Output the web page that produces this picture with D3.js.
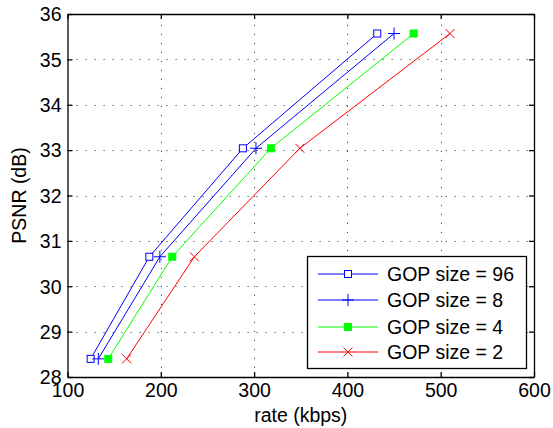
<!DOCTYPE html>
<html>
<head>
<meta charset="utf-8">
<script src="https://cdn.jsdelivr.net/npm/d3@7"></script>
<style>
  body { margin: 0; background: #fff; }
  svg text { font-family: "Liberation Sans", Arial, sans-serif; fill: #000; }
</style>
</head>
<body>
<svg id="chart" width="553" height="428"></svg>
<script>
// data
var psnr = [28.40, 30.65, 33.04, 35.57];
var rateGop96 = [124.8, 187.7, 288, 432];
var rateGop8 = [133, 199, 302, 450];
var rateGop4 = [143.7, 212.3, 318, 471];
var rateGop2 = [163.4, 236, 349, 510];
var seriesNames = ["GOP size = 96", "GOP size = 8", "GOP size = 4", "GOP size = 2"];
var xTicks = [100, 200, 300, 400, 500, 600];
var yTicks = [28, 29, 30, 31, 32, 33, 34, 35, 36];

var series = [
    {name: seriesNames[0], rates: rateGop96, color: "#0000ff", marker: "square"},
    {name: seriesNames[1], rates: rateGop8, color: "#0000ff", marker: "plus"},
    {name: seriesNames[2], rates: rateGop4, color: "#00ff00", marker: "filled"},
    {name: seriesNames[3], rates: rateGop2, color: "#ff0000", marker: "cross"}
];

var plotL = 67.5, plotR = 534, plotT = 14, plotB = 377;
var fontSize = "19.5px";
var svg = d3.select("#chart");

var x = d3.scaleLinear().domain([100, 600]).range([plotL, plotR]);
var y = d3.scaleLinear().domain([28, 36]).range([plotB, plotT]);

// grid
var grid = svg.append("g").attr("stroke", "#000").attr("stroke-width", 1)
    .attr("stroke-dasharray", "1.2,7.8").attr("opacity", 0.7);
grid.selectAll("line.gx").data(xTicks.slice(1, -1)).enter().append("line")
    .attr("x1", function (d) { return Math.round(x(d)) + 0.5; })
    .attr("x2", function (d) { return Math.round(x(d)) + 0.5; })
    .attr("y1", plotB).attr("y2", plotT);
grid.selectAll("line.gy").data(yTicks.slice(1, -1)).enter().append("line")
    .attr("y1", function (d) { return Math.round(y(d)) + 0.5; })
    .attr("y2", function (d) { return Math.round(y(d)) + 0.5; })
    .attr("x1", plotL).attr("x2", plotR);

// axes (ticks inside, box)
function noLabels(a) { return a.tickFormat(""); }
var axB = svg.append("g").attr("transform", "translate(0," + plotB + ")")
    .call(d3.axisBottom(x).tickValues(xTicks).tickSize(-5).tickSizeOuter(0).tickPadding(5));
var axT = svg.append("g").attr("transform", "translate(0," + plotT + ")")
    .call(noLabels(d3.axisTop(x).tickValues(xTicks).tickSize(-5).tickSizeOuter(0)));
var axL = svg.append("g").attr("transform", "translate(" + plotL + ",0)")
    .call(d3.axisLeft(y).tickValues(yTicks).tickSize(-5).tickSizeOuter(0).tickPadding(6));
var axR = svg.append("g").attr("transform", "translate(" + plotR + ",0)")
    .call(noLabels(d3.axisRight(y).tickValues(yTicks).tickSize(-5).tickSizeOuter(0)));

[axB, axT, axL, axR].forEach(function (a) {
    a.selectAll("path, line").attr("stroke", "#000").attr("stroke-width", 1.3);
    a.selectAll("text").style("font-size", fontSize).attr("font-family", null);
});
axB.selectAll("text").attr("dy", "0.75em");
axL.selectAll("text").attr("dy", "0.35em");

// axis titles
svg.append("text").attr("x", (plotL + plotR) / 2).attr("y", 422)
    .attr("text-anchor", "middle").style("font-size", fontSize).text("rate (kbps)");
svg.append("text").attr("transform", "translate(26," + (plotT + plotB) / 2 + ") rotate(-90)")
    .attr("text-anchor", "middle").style("font-size", fontSize).text("PSNR (dB)");

// marker drawer
function drawMarker(g, type, color, cx, cy) {
    if (type == "square") {
        g.append("rect").attr("x", cx - 3.5).attr("y", cy - 3.5).attr("width", 7).attr("height", 7)
            .attr("fill", "#fff").attr("stroke", color).attr("stroke-width", 1);
    } else if (type == "filled") {
        g.append("rect").attr("x", cx - 3.5).attr("y", cy - 3.5).attr("width", 7).attr("height", 7)
            .attr("fill", color).attr("stroke", color).attr("stroke-width", 1);
    } else if (type == "plus") {
        g.append("path").attr("d", "M" + (cx - 6) + "," + cy + "H" + (cx + 6) + "M" + cx + "," + (cy - 6) + "V" + (cy + 6))
            .attr("stroke", color).attr("stroke-width", 1).attr("fill", "none");
    } else {
        g.append("path").attr("d", "M" + (cx - 4.5) + "," + (cy - 4.5) + "L" + (cx + 4.5) + "," + (cy + 4.5) +
            "M" + (cx - 4.5) + "," + (cy + 4.5) + "L" + (cx + 4.5) + "," + (cy - 4.5))
            .attr("stroke", color).attr("stroke-width", 1).attr("fill", "none");
    }
}

var line = d3.line()
    .x(function (d) { return x(d[0]); })
    .y(function (d) { return y(d[1]); });

series.forEach(function (s) {
    var pts = s.rates.map(function (r, i) { return [r, psnr[i]]; });
    var g = svg.append("g");
    g.append("path").attr("d", line(pts)).attr("fill", "none")
        .attr("stroke", s.color).attr("stroke-width", 1);
    pts.forEach(function (p) {
        drawMarker(g, s.marker, s.color, x(p[0]), y(p[1]));
    });
});

// legend
var lg = svg.append("g");
lg.append("rect").attr("x", 307.5).attr("y", 256.5).attr("width", 219).attr("height", 112)
    .attr("fill", "#fff").attr("stroke", "#000").attr("stroke-width", 1.3);
var legendY = [274, 300, 327, 352];
series.forEach(function (s, i) {
    var ly = legendY[i];
    lg.append("line").attr("x1", 318).attr("x2", 378).attr("y1", ly).attr("y2", ly)
        .attr("stroke", s.color).attr("stroke-width", 1);
    drawMarker(lg, s.marker, s.color, 348, ly);
    lg.append("text").attr("x", 387).attr("y", ly).attr("dy", "0.35em")
        .style("font-size", fontSize).text(s.name);
});
</script>
</body>
</html>
